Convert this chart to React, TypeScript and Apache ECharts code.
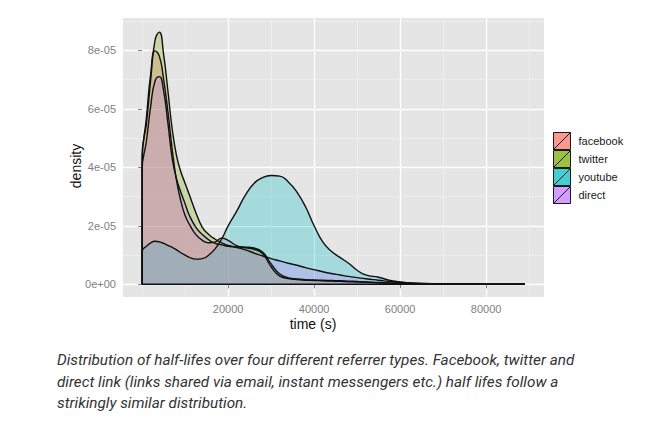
import React, { useEffect, useRef } from 'react';
import * as echarts from 'echarts';

const timeGrid = [
  0, 1000, 2000, 3000, 4000, 5000, 6000, 7000, 8000, 9000, 10000, 11000, 12500, 14000, 15500,
  17000, 18500, 20000, 22000, 24000, 26000, 28000, 30000, 32000, 34000, 36000, 38000, 40000,
  42000, 44000, 46000, 48000, 50000, 52000, 55000, 58000, 62000, 66000, 70000, 75000, 80000,
  85000, 89000,
];

// densities, in units of 1e-05
const facebookDensity = [
  4.2, 5.7, 7.2, 7.98, 7.8, 7.0, 5.9, 4.6, 3.55, 2.85, 2.35, 2.05, 1.7, 1.5, 1.42,
  1.45, 1.58, 1.5, 1.32, 1.25, 1.2, 1.05, 0.6, 0.28, 0.2, 0.16, 0.14, 0.13,
  0.12, 0.11, 0.1, 0.09, 0.08, 0.07, 0.05, 0.035, 0.02, 0.012, 0.008, 0.005, 0.003,
  0.002, 0.001,
];
const twitterDensity = [
  4.4, 5.5, 7.0, 8.35, 8.62, 7.85, 6.6, 5.3, 4.4, 3.85, 3.45, 3.05, 2.45, 1.95, 1.7,
  1.54, 1.42, 1.33, 1.28, 1.27, 1.24, 1.1, 0.7, 0.35, 0.22, 0.18, 0.16, 0.15,
  0.14, 0.13, 0.12, 0.11, 0.1, 0.08, 0.06, 0.04, 0.025, 0.015, 0.01, 0.007, 0.005,
  0.003, 0.002,
];
const youtubeDensity = [
  1.13, 1.3, 1.42, 1.47, 1.45, 1.4, 1.33, 1.26, 1.18, 1.08, 1.0, 0.92, 0.86, 0.88, 1.0,
  1.22, 1.55, 2.0, 2.5, 3.05, 3.45, 3.65, 3.72, 3.7, 3.5, 3.15, 2.65, 2.0,
  1.45, 1.13, 0.92, 0.72, 0.48, 0.32, 0.24, 0.12, 0.05, 0.02, 0.01, 0.005, 0.003,
  0.002, 0.001,
];
const directDensity = [
  3.9, 4.9, 6.1, 6.95, 7.1, 6.6, 5.5, 4.3, 3.6, 3.15, 2.75, 2.35, 1.95, 1.7, 1.52,
  1.4, 1.35, 1.3, 1.26, 1.18, 1.07, 0.97, 0.88, 0.8, 0.72, 0.65, 0.57, 0.5,
  0.43, 0.37, 0.32, 0.27, 0.23, 0.19, 0.14, 0.09, 0.055, 0.03, 0.02, 0.012, 0.008,
  0.005, 0.003,
];

const referrers = ['facebook', 'twitter', 'youtube', 'direct'];
const referrerColors = ['#F8766D', '#7CAE00', '#00BFC4', '#C77CFF'];
const densities = [facebookDensity, twitterDensity, youtubeDensity, directDensity];

const xTicks = [20000, 40000, 60000, 80000];
const xMinorTicks = [0, 10000, 30000, 50000, 70000, 90000];
const yTicks = [0, 2, 4, 6, 8];
const yTickLabels = ['0e+00', '2e-05', '4e-05', '6e-05', '8e-05'];
const yMinorTicks = [1, 3, 5, 7, 9];

const captionLines = [
  'Distribution of half-lifes over four different referrer types. Facebook, twitter and',
  'direct link (links shared via email, instant messengers etc.) half lifes follow a',
  'strikingly similar distribution.',
];

const FONT = '"Liberation Sans", Arial, sans-serif';

function rgba(hex: string, a: number) {
  const n = parseInt(hex.slice(1), 16);
  return `rgba(${(n >> 16) & 255},${(n >> 8) & 255},${n & 255},${a})`;
}

export default function App() {
  const chartRef = useRef<HTMLDivElement>(null);

  useEffect(() => {
    if (!chartRef.current) return;
    const chart = echarts.init(chartRef.current, null, { renderer: 'svg' });

    const areaSeries = referrers.map((name, i) => ({
      name,
      type: 'line',
      smooth: 0.5,
      symbol: 'none',
      data: [[timeGrid[0], 0], ...timeGrid.map((t, j) => [t, densities[i][j]])],
      lineStyle: { color: '#101010', width: 1.4 },
      itemStyle: { color: referrerColors[i] },
      areaStyle: { color: rgba(referrerColors[i], 0.4), origin: 0 },
      emphasis: { disabled: true },
      silent: true,
    }));

    // bottom edge of the density polygons
    const baseline = {
      name: 'baseline',
      type: 'line',
      symbol: 'none',
      data: [[timeGrid[0], 0], [timeGrid[timeGrid.length - 1], 0]],
      lineStyle: { color: '#101010', width: 1.4 },
      emphasis: { disabled: true },
      silent: true,
      z: 5,
    };

    chart.setOption({
      animation: false,
      grid: {
        left: 123,
        right: 106,
        top: 18,
        bottom: 134,
        show: true,
        backgroundColor: '#E5E5E5',
        borderWidth: 0,
      },
      legend: {
        data: referrers.map((name, i) => ({
          name,
          itemStyle: { color: rgba(referrerColors[i], 0.75), borderColor: '#1a1a1a', borderWidth: 1 },
        })),
        orient: 'vertical',
        left: 553,
        top: 132,
        padding: 0,
        itemGap: 0,
        itemWidth: 17,
        itemHeight: 18,
        icon: 'path://M0,0H10V10H0Z M0,10L10,0',
        selectedMode: false,
        textStyle: { fontFamily: FONT, fontSize: 11, color: '#1a1a1a', padding: [0, 0, 0, 3] },
      },
      xAxis: [
        {
          type: 'value',
          min: -4450,
          max: 93450,
          axisLine: { show: false },
          axisTick: { customValues: xTicks, length: 4, lineStyle: { color: '#808080', width: 1 } },
          axisLabel: {
            customValues: xTicks,
            color: '#808080',
            fontFamily: FONT,
            fontSize: 11,
            margin: 6,
            formatter: (v: number) => String(v),
          },
          splitLine: { show: true, lineStyle: { color: '#FFFFFF', width: 1.3 } },
        },
        {
          type: 'value',
          min: -4450,
          max: 93450,
          position: 'bottom',
          axisLine: { show: false },
          axisTick: { show: false, customValues: xMinorTicks },
          axisLabel: { show: false },
          splitLine: { show: true, lineStyle: { color: '#F2F2F2', width: 0.7 } },
        },
      ],
      yAxis: [
        {
          type: 'value',
          min: -0.4335,
          max: 9.1035,
          axisLine: { show: false },
          axisTick: { customValues: yTicks, length: 4, lineStyle: { color: '#808080', width: 1 } },
          axisLabel: {
            customValues: yTicks,
            color: '#808080',
            fontFamily: FONT,
            fontSize: 11,
            margin: 7,
            formatter: (v: number) => yTickLabels[yTicks.indexOf(Math.round(v))] ?? '',
          },
          splitLine: { show: true, lineStyle: { color: '#FFFFFF', width: 1.3 } },
        },
        {
          type: 'value',
          min: -0.4335,
          max: 9.1035,
          position: 'left',
          axisLine: { show: false },
          axisTick: { show: false, customValues: yMinorTicks },
          axisLabel: { show: false },
          splitLine: { show: true, lineStyle: { color: '#F2F2F2', width: 0.7 } },
        },
      ],
      series: [...areaSeries, baseline],
      graphic: [
        {
          type: 'text',
          x: 76,
          y: 166,
          rotation: Math.PI / 2,
          style: {
            text: 'density',
            font: `14px ${FONT}`,
            fill: '#111',
            align: 'center',
            verticalAlign: 'middle',
          },
        },
        {
          type: 'text',
          x: 313,
          y: 324,
          style: {
            text: 'time (s)',
            font: `14px ${FONT}`,
            fill: '#111',
            align: 'center',
            verticalAlign: 'middle',
          },
        },
        ...captionLines.map((line, i) => ({
          type: 'text',
          x: 57,
          y: 360 + i * 21.6,
          style: {
            text: line,
            font: 'italic 15.3px Roboto',
            fill: '#333',
            align: 'left',
            verticalAlign: 'middle',
          },
        })),
      ],
    });

    return () => {
      chart.dispose();
    };
  }, []);

  return (
    <div
      ref={chartRef}
      style={{ position: 'absolute', left: 0, top: 0, width: 650, height: 431, background: '#fff' }}
    />
  );
}
